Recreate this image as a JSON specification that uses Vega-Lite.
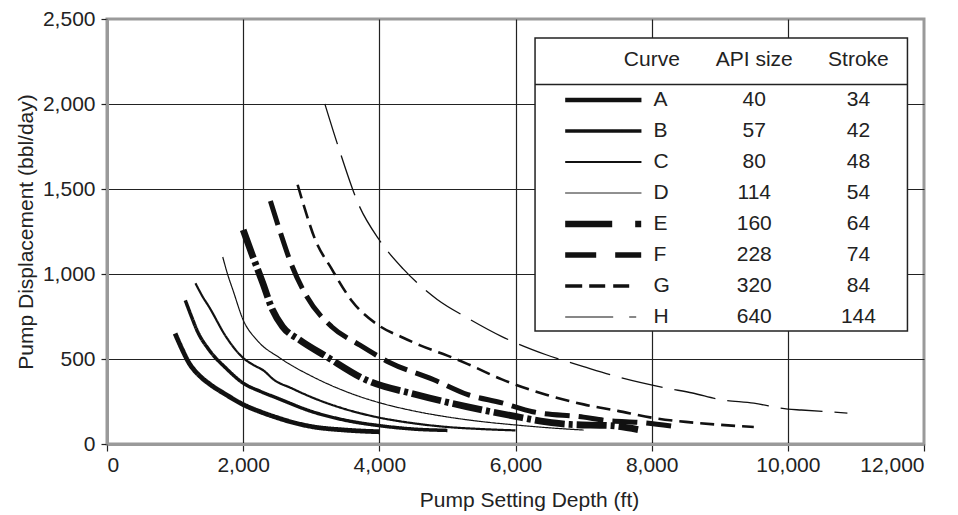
{
  "$schema": "https://vega.github.io/schema/vega-lite/v6.json",
  "autosize": {"type": "none"},
  "width": 817,
  "height": 425,
  "padding": {"left": 107, "top": 19, "right": 34, "bottom": 71},
  "background": "white",
  "config": {
    "font": "Liberation Sans",
    "view": {"stroke": "#9a9a9a", "strokeWidth": 3},
    "text": {"font": "Liberation Sans", "fontSize": 21, "color": "#222"}
  },
  "datasets": {
    "curves": [
      {"curve": "A", "depth": 1000, "displacement": 650},
      {"curve": "A", "depth": 1100, "displacement": 560},
      {"curve": "A", "depth": 1200, "displacement": 480},
      {"curve": "A", "depth": 1350, "displacement": 405},
      {"curve": "A", "depth": 1500, "displacement": 355},
      {"curve": "A", "depth": 1750, "displacement": 290},
      {"curve": "A", "depth": 2000, "displacement": 232},
      {"curve": "A", "depth": 2250, "displacement": 190},
      {"curve": "A", "depth": 2500, "displacement": 155},
      {"curve": "A", "depth": 2750, "displacement": 125},
      {"curve": "A", "depth": 3000, "displacement": 103},
      {"curve": "A", "depth": 3500, "displacement": 82},
      {"curve": "A", "depth": 4000, "displacement": 72},
      {"curve": "B", "depth": 1150, "displacement": 845},
      {"curve": "B", "depth": 1250, "displacement": 740},
      {"curve": "B", "depth": 1320, "displacement": 670},
      {"curve": "B", "depth": 1500, "displacement": 553},
      {"curve": "B", "depth": 1750, "displacement": 445},
      {"curve": "B", "depth": 2000, "displacement": 358},
      {"curve": "B", "depth": 2250, "displacement": 310},
      {"curve": "B", "depth": 2500, "displacement": 270},
      {"curve": "B", "depth": 3000, "displacement": 192},
      {"curve": "B", "depth": 3500, "displacement": 140},
      {"curve": "B", "depth": 4000, "displacement": 108},
      {"curve": "B", "depth": 4500, "displacement": 88},
      {"curve": "B", "depth": 5000, "displacement": 80},
      {"curve": "C", "depth": 1300, "displacement": 945},
      {"curve": "C", "depth": 1400, "displacement": 870},
      {"curve": "C", "depth": 1500, "displacement": 806},
      {"curve": "C", "depth": 1750, "displacement": 630},
      {"curve": "C", "depth": 2000, "displacement": 506},
      {"curve": "C", "depth": 2150, "displacement": 465},
      {"curve": "C", "depth": 2300, "displacement": 432},
      {"curve": "C", "depth": 2450, "displacement": 378},
      {"curve": "C", "depth": 2700, "displacement": 330},
      {"curve": "C", "depth": 3030, "displacement": 271},
      {"curve": "C", "depth": 3500, "displacement": 205},
      {"curve": "C", "depth": 4000, "displacement": 155},
      {"curve": "C", "depth": 4500, "displacement": 122},
      {"curve": "C", "depth": 5000, "displacement": 100},
      {"curve": "C", "depth": 5500, "displacement": 88},
      {"curve": "C", "depth": 6000, "displacement": 80},
      {"curve": "D", "depth": 1700, "displacement": 1100},
      {"curve": "D", "depth": 1770, "displacement": 1000},
      {"curve": "D", "depth": 1850, "displacement": 905},
      {"curve": "D", "depth": 2000, "displacement": 730},
      {"curve": "D", "depth": 2200, "displacement": 612},
      {"curve": "D", "depth": 2540, "displacement": 506},
      {"curve": "D", "depth": 3030, "displacement": 394},
      {"curve": "D", "depth": 3500, "displacement": 310},
      {"curve": "D", "depth": 4000, "displacement": 243},
      {"curve": "D", "depth": 4500, "displacement": 195},
      {"curve": "D", "depth": 5000, "displacement": 159},
      {"curve": "D", "depth": 5500, "displacement": 132},
      {"curve": "D", "depth": 6000, "displacement": 112},
      {"curve": "D", "depth": 6500, "displacement": 95},
      {"curve": "D", "depth": 7000, "displacement": 82},
      {"curve": "E", "depth": 2000, "displacement": 1260},
      {"curve": "E", "depth": 2140, "displacement": 1105},
      {"curve": "E", "depth": 2290, "displacement": 945},
      {"curve": "E", "depth": 2430, "displacement": 790},
      {"curve": "E", "depth": 2580, "displacement": 690},
      {"curve": "E", "depth": 2830, "displacement": 612},
      {"curve": "E", "depth": 3220, "displacement": 515},
      {"curve": "E", "depth": 3800, "displacement": 378},
      {"curve": "E", "depth": 4550, "displacement": 290},
      {"curve": "E", "depth": 5280, "displacement": 220},
      {"curve": "E", "depth": 6000, "displacement": 162},
      {"curve": "E", "depth": 6450, "displacement": 130},
      {"curve": "E", "depth": 6800, "displacement": 115},
      {"curve": "E", "depth": 7400, "displacement": 108},
      {"curve": "E", "depth": 7800, "displacement": 85},
      {"curve": "F", "depth": 2400, "displacement": 1430},
      {"curve": "F", "depth": 2550, "displacement": 1240},
      {"curve": "F", "depth": 2700, "displacement": 1065},
      {"curve": "F", "depth": 2930, "displacement": 870},
      {"curve": "F", "depth": 3300, "displacement": 690},
      {"curve": "F", "depth": 3700, "displacement": 585},
      {"curve": "F", "depth": 4150, "displacement": 480},
      {"curve": "F", "depth": 4800, "displacement": 378},
      {"curve": "F", "depth": 5300, "displacement": 290},
      {"curve": "F", "depth": 5800, "displacement": 242},
      {"curve": "F", "depth": 6250, "displacement": 190},
      {"curve": "F", "depth": 7000, "displacement": 158},
      {"curve": "F", "depth": 7300, "displacement": 140},
      {"curve": "F", "depth": 7900, "displacement": 125},
      {"curve": "F", "depth": 8300, "displacement": 105},
      {"curve": "G", "depth": 2800, "displacement": 1525},
      {"curve": "G", "depth": 2900, "displacement": 1390},
      {"curve": "G", "depth": 3050, "displacement": 1210},
      {"curve": "G", "depth": 3300, "displacement": 1030},
      {"curve": "G", "depth": 3600, "displacement": 840},
      {"curve": "G", "depth": 4000, "displacement": 695},
      {"curve": "G", "depth": 4350, "displacement": 625},
      {"curve": "G", "depth": 4600, "displacement": 580},
      {"curve": "G", "depth": 5000, "displacement": 520},
      {"curve": "G", "depth": 5300, "displacement": 470},
      {"curve": "G", "depth": 5800, "displacement": 380},
      {"curve": "G", "depth": 6450, "displacement": 290},
      {"curve": "G", "depth": 7000, "displacement": 233},
      {"curve": "G", "depth": 7500, "displacement": 195},
      {"curve": "G", "depth": 8000, "displacement": 155},
      {"curve": "G", "depth": 8500, "displacement": 130},
      {"curve": "G", "depth": 9000, "displacement": 113},
      {"curve": "G", "depth": 9500, "displacement": 100},
      {"curve": "H", "depth": 3200, "displacement": 2000},
      {"curve": "H", "depth": 3400, "displacement": 1745},
      {"curve": "H", "depth": 3700, "displacement": 1405},
      {"curve": "H", "depth": 4000, "displacement": 1200},
      {"curve": "H", "depth": 4350, "displacement": 1030},
      {"curve": "H", "depth": 4850, "displacement": 850},
      {"curve": "H", "depth": 5300, "displacement": 740},
      {"curve": "H", "depth": 5800, "displacement": 632},
      {"curve": "H", "depth": 6450, "displacement": 525},
      {"curve": "H", "depth": 7000, "displacement": 455},
      {"curve": "H", "depth": 7500, "displacement": 395},
      {"curve": "H", "depth": 8200, "displacement": 330},
      {"curve": "H", "depth": 8600, "displacement": 300},
      {"curve": "H", "depth": 9000, "displacement": 262},
      {"curve": "H", "depth": 9500, "displacement": 240},
      {"curve": "H", "depth": 10000, "displacement": 205},
      {"curve": "H", "depth": 10200, "displacement": 200},
      {"curve": "H", "depth": 10875, "displacement": 182}
    ],
    "legendRows": [
      {"curve": "A", "api": 40, "stroke": 34, "row": 1},
      {"curve": "B", "api": 57, "stroke": 42, "row": 2},
      {"curve": "C", "api": 80, "stroke": 48, "row": 3},
      {"curve": "D", "api": 114, "stroke": 54, "row": 4},
      {"curve": "E", "api": 160, "stroke": 64, "row": 5},
      {"curve": "F", "api": 228, "stroke": 74, "row": 6},
      {"curve": "G", "api": 320, "stroke": 84, "row": 7},
      {"curve": "H", "api": 640, "stroke": 144, "row": 8}
    ]
  },
  "layer": [
    {
      "data": {"name": "curves"},
      "mark": {"type": "line", "color": "#111", "strokeCap": "butt", "strokeJoin": "round", "interpolate": "monotone"},
      "encoding": {
        "x": {
          "field": "depth", "type": "quantitative",
          "scale": {"domain": [0, 12000], "nice": false},
          "axis": {
            "values": [0, 2000, 4000, 6000, 8000, 10000, 12000],
            "format": ",d",
            "title": "Pump Setting Depth (ft)",
            "titleFont": "Liberation Sans", "labelFont": "Liberation Sans",
            "titleFontSize": 21, "labelFontSize": 21,
            "titleFontWeight": "normal",
            "titleColor": "#222", "labelColor": "#222",
            "titlePadding": 14, "titleX": 422,
            "labelPadding": 3,
            "domainColor": "#9a9a9a", "domainWidth": 3,
            "tickColor": "#222", "tickSize": 7, "tickWidth": 1.2,
            "grid": true, "gridColor": "#222", "gridWidth": 1.2,
            "gridOpacity": {"condition": {"test": "datum.value === 0 || datum.value === 12000", "value": 0}, "value": 1}
          }
        },
        "y": {
          "field": "displacement", "type": "quantitative",
          "scale": {"domain": [0, 2500], "nice": false},
          "axis": {
            "values": [0, 500, 1000, 1500, 2000, 2500],
            "format": ",d",
            "title": "Pump Displacement (bbl/day)",
            "titleFont": "Liberation Sans", "labelFont": "Liberation Sans",
            "titleFontSize": 21, "labelFontSize": 21,
            "titleFontWeight": "normal",
            "titleColor": "#222", "labelColor": "#222",
            "titlePadding": 6,
            "labelPadding": 6,
            "domainColor": "#9a9a9a", "domainWidth": 3,
            "tickColor": "#222", "tickSize": 6, "tickWidth": 1.2,
            "grid": true, "gridColor": "#222", "gridWidth": 1.2,
            "gridOpacity": {"condition": {"test": "datum.value === 0 || datum.value === 2500", "value": 0}, "value": 1}
          }
        },
        "detail": {"field": "curve", "type": "nominal"},
        "strokeWidth": {
          "condition": [
            {"test": "datum.curve === 'A'", "value": 4.8},
            {"test": "datum.curve === 'B'", "value": 3.5},
            {"test": "datum.curve === 'C'", "value": 2.2},
            {"test": "datum.curve === 'E'", "value": 6.8},
            {"test": "datum.curve === 'F'", "value": 5},
            {"test": "datum.curve === 'G'", "value": 2.6},
            {"test": "datum.curve === 'H'", "value": 1.3}
          ],
          "value": 1.2
        },
        "strokeDash": {
          "condition": [
            {"test": "datum.curve === 'E'", "value": [30, 4, 4, 4]},
            {"test": "datum.curve === 'F'", "value": [25, 9]},
            {"test": "datum.curve === 'G'", "value": [14, 7]},
            {"test": "datum.curve === 'H'", "value": [42, 12]}
          ],
          "value": [1, 0]
        }
      }
    },
    {
      "layer": [
        {
          "data": {"values": [{}]},
          "mark": {"type": "rect", "fill": "white", "stroke": "#222", "strokeWidth": 1.5},
          "encoding": {
            "x": {"datum": 6287, "type": "quantitative", "scale": {"domain": [0, 12000], "nice": false}},
            "x2": {"datum": 11757},
            "y": {"datum": -1, "type": "quantitative", "scale": {"domain": [0, 8], "range": [50, 298]}, "axis": null},
            "y2": {"datum": 8.45}
          }
        },
        {
          "data": {"values": [{}]},
          "mark": {"type": "rule", "stroke": "#222", "strokeWidth": 1.5},
          "encoding": {
            "x": {"datum": 6287, "type": "quantitative", "scale": {"domain": [0, 12000], "nice": false}},
            "x2": {"datum": 11757},
            "y": {"datum": 0.5, "type": "quantitative", "scale": {"domain": [0, 8], "range": [50, 298]}, "axis": null}
          }
        },
        {
          "data": {"values": [{}]},
          "mark": {"type": "text", "align": "center", "baseline": "middle", "fontSize": 21, "color": "#222"},
          "encoding": {
            "x": {"datum": 8003, "type": "quantitative", "scale": {"domain": [0, 12000], "nice": false}},
            "y": {"datum": -0.29, "type": "quantitative", "scale": {"domain": [0, 8], "range": [50, 298]}, "axis": null},
            "text": {"value": "Curve"}
          }
        },
        {
          "data": {"values": [{}]},
          "mark": {"type": "text", "align": "center", "baseline": "middle", "fontSize": 21, "color": "#222"},
          "encoding": {
            "x": {"datum": 9507, "type": "quantitative", "scale": {"domain": [0, 12000], "nice": false}},
            "y": {"datum": -0.29, "type": "quantitative", "scale": {"domain": [0, 8], "range": [50, 298]}, "axis": null},
            "text": {"value": "API size"}
          }
        },
        {
          "data": {"values": [{}]},
          "mark": {"type": "text", "align": "center", "baseline": "middle", "fontSize": 21, "color": "#222"},
          "encoding": {
            "x": {"datum": 11037, "type": "quantitative", "scale": {"domain": [0, 12000], "nice": false}},
            "y": {"datum": -0.29, "type": "quantitative", "scale": {"domain": [0, 8], "range": [50, 298]}, "axis": null},
            "text": {"value": "Stroke"}
          }
        },
        {
          "data": {"name": "legendRows"},
          "mark": {"type": "rule", "color": "#111", "strokeCap": "butt"},
          "encoding": {
            "x": {"datum": 6730, "type": "quantitative", "scale": {"domain": [0, 12000], "nice": false}},
            "x2": {"datum": 7850},
            "y": {"field": "row", "type": "quantitative", "scale": {"domain": [0, 8], "range": [50, 298]}, "axis": null},
            "strokeWidth": {
              "condition": [
                {"test": "datum.curve === 'A'", "value": 4.5},
                {"test": "datum.curve === 'B'", "value": 3.3},
                {"test": "datum.curve === 'C'", "value": 2.2},
                {"test": "datum.curve === 'E'", "value": 6.5},
                {"test": "datum.curve === 'F'", "value": 5.5},
                {"test": "datum.curve === 'G'", "value": 3.3},
                {"test": "datum.curve === 'H'", "value": 1.2}
              ],
              "value": 1
            },
            "strokeDash": {
              "condition": [
                {"test": "datum.curve === 'E'", "value": [47, 23, 6, 100]},
                {"test": "datum.curve === 'F'", "value": [31, 19, 26, 100]},
                {"test": "datum.curve === 'G'", "value": [17, 7, 16, 8, 16, 100]},
                {"test": "datum.curve === 'H'", "value": [48, 16, 7, 100]}
              ],
              "value": [1, 0]
            }
          }
        },
        {
          "data": {"name": "legendRows"},
          "mark": {"type": "text", "align": "left", "baseline": "middle", "fontSize": 21, "color": "#222"},
          "encoding": {
            "x": {"datum": 8026, "type": "quantitative", "scale": {"domain": [0, 12000], "nice": false}},
            "y": {"field": "row", "type": "quantitative", "scale": {"domain": [0, 8], "range": [50, 298]}, "axis": null},
            "text": {"field": "curve"}
          }
        },
        {
          "data": {"name": "legendRows"},
          "mark": {"type": "text", "align": "center", "baseline": "middle", "fontSize": 21, "color": "#222"},
          "encoding": {
            "x": {"datum": 9507, "type": "quantitative", "scale": {"domain": [0, 12000], "nice": false}},
            "y": {"field": "row", "type": "quantitative", "scale": {"domain": [0, 8], "range": [50, 298]}, "axis": null},
            "text": {"field": "api"}
          }
        },
        {
          "data": {"name": "legendRows"},
          "mark": {"type": "text", "align": "center", "baseline": "middle", "fontSize": 21, "color": "#222"},
          "encoding": {
            "x": {"datum": 11037, "type": "quantitative", "scale": {"domain": [0, 12000], "nice": false}},
            "y": {"field": "row", "type": "quantitative", "scale": {"domain": [0, 8], "range": [50, 298]}, "axis": null},
            "text": {"field": "stroke"}
          }
        }
      ]
    }
  ],
  "resolve": {"scale": {"y": "independent"}}
}
